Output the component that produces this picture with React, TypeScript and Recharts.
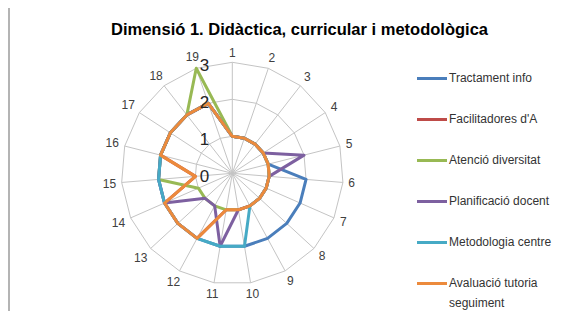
import React from "react";
import {
  RadarChart,
  Radar,
  PolarGrid,
  PolarAngleAxis,
  PolarRadiusAxis,
  Legend,
} from "recharts";

// === data ===

const categories = ["1", "2", "3", "4", "5", "6", "7", "8", "9", "10", "11", "12", "13", "14", "15", "16", "17", "18", "19"];

const tractamentInfo = [1, 1, 1, 1, 1, 2, 2, 2, 2, 2, 2, 2, 2, 2, 2, 2, 2, 2, 2];
const facilitadors = [1, 1, 1, 1, 1, 1, 1, 1, 1, 1, 1, 2, 2, 2, 1, 2, 2, 2, 2];
const atencioDiversitat = [1, 1, 1, 1, 1, 1, 1, 1, 1, 1, 1, 1, 1, 1, 2, 2, 2, 2, 3];
const planificacioDocent = [1, 1, 1, 1, 2, 1, 1, 1, 1, 1, 2, 1, 1, 2, 2, 2, 2, 2, 2];
const metodologiaCentre = [1, 1, 1, 1, 1, 1, 1, 1, 1, 2, 2, 2, 2, 2, 2, 2, 2, 2, 2];
const avaluacioTutoria = [1, 1, 1, 1, 1, 1, 1, 1, 1, 1, 1, 2, 2, 2, 1, 2, 2, 2, 2];

const radiusTicks = [0, 1, 2, 3];

const series = [
  { key: "tract", name: "Tractament info", values: tractamentInfo, color: "#4A7EBB" },
  { key: "facil", name: "Facilitadores d'A", values: facilitadors, color: "#BE4B48" },
  { key: "atencio", name: "Atenció diversitat", values: atencioDiversitat, color: "#98B954" },
  { key: "planif", name: "Planificació docent", values: planificacioDocent, color: "#7D60A0" },
  { key: "metod", name: "Metodologia centre", values: metodologiaCentre, color: "#46AAC5" },
  { key: "aval", name: "Avaluació tutoria seguiment", values: avaluacioTutoria, color: "#EC8A3C" },
];

const chartData = categories.map((c, i) => {
  const row: any = { axis: c };
  series.forEach((s) => (row[s.key] = s.values[i]));
  return row;
});

const W = 561;
const H = 306;
const CX = 224.3;
const CY = 168.3;
const R = 111;
const FONT = "'Liberation Sans', Arial, sans-serif";

const AngleTick = (props: any) => {
  const { x, y, payload } = props;
  const dx = x - CX;
  const dy = y - CY;
  const len = Math.sqrt(dx * dx + dy * dy) || 1;
  const ux = dx / len;
  const uy = dy / len;
  const label = String(payload.value);
  const halfW = 3.4 * label.length;
  const r = R + 5 + Math.abs(ux) * halfW + Math.abs(uy) * 5;
  return (
    <text
      x={CX + ux * r}
      y={CY + uy * r}
      dy={4.2}
      textAnchor="middle"
      fontSize={12}
      fontFamily={FONT}
      fill="#404040"
    >
      {label}
    </text>
  );
};

const RadiusTick = (props: any) => {
  const { x, y, payload } = props;
  return (
    <text
      x={x - 23}
      y={y}
      dy={8.5}
      textAnchor="end"
      fontSize={17}
      fontFamily={FONT}
      fill="#262626"
    >
      {payload.value}
    </text>
  );
};

// legend keeps the series order (recharts sorts its payload otherwise)
const LegendBox = () => (
  <div style={{ fontFamily: FONT, fontSize: 12, color: "#333" }}>
    {series.map((s) => (
      <div key={s.key} style={{ display: "flex", alignItems: "flex-start", height: 41 }}>
        <div style={{ width: 30, height: 3, marginTop: 9, background: s.color, flexShrink: 0 }} />
        <div style={{ marginLeft: 2, lineHeight: "20px", width: 106 }}>{s.name}</div>
      </div>
    ))}
  </div>
);

export default function App() {
  return (
    <div
      style={{
        position: "relative",
        marginTop: -3,
        width: W,
        height: H,
        borderTop: "2px solid #b4b4b4",
        borderLeft: "2px solid #b4b4b4",
        boxSizing: "border-box",
      }}
    >
      <div style={{ position: "absolute", left: -2, top: -2, width: W, height: H }}>
        <RadarChart
          width={W}
          height={H}
          data={chartData}
          cx={CX}
          cy={CY}
          outerRadius={R}
          margin={{ top: 0, right: 0, bottom: 0, left: 0 }}
        >
          <PolarGrid gridType="polygon" stroke="#c4c4c4" strokeWidth={1} />
          <PolarAngleAxis dataKey="axis" tick={<AngleTick />} axisLine={false} tickLine={false} />
          <PolarRadiusAxis
            angle={90}
            domain={[0, 3]}
            ticks={radiusTicks as any}
            tickCount={4}
            axisLine={false}
            tickLine={false}
            tick={<RadiusTick />}
          />
          {series.map((s) => (
            <Radar
              key={s.key}
              name={s.name}
              dataKey={s.key}
              stroke={s.color}
              strokeWidth={3}
              strokeLinejoin="round"
              fill="none"
              fillOpacity={0}
              dot={false}
              isAnimationActive={false}
            />
          ))}
          <Legend
            layout="vertical"
            content={<LegendBox />}
            wrapperStyle={{ position: "absolute", left: 409, top: 63, width: 150 }}
          />
        </RadarChart>
        <svg
          width={W}
          height={45}
          style={{ position: "absolute", left: 0, top: 0, pointerEvents: "none" }}
        >
          <text
            x={291.5}
            y={30}
            textAnchor="middle"
            fontFamily={FONT}
            fontSize={16}
            fontWeight="bold"
            fill="#000"
            textLength={377}
            lengthAdjust="spacingAndGlyphs"
          >
            Dimensió 1. Didàctica, curricular i metodològica
          </text>
        </svg>
      </div>
    </div>
  );
}
